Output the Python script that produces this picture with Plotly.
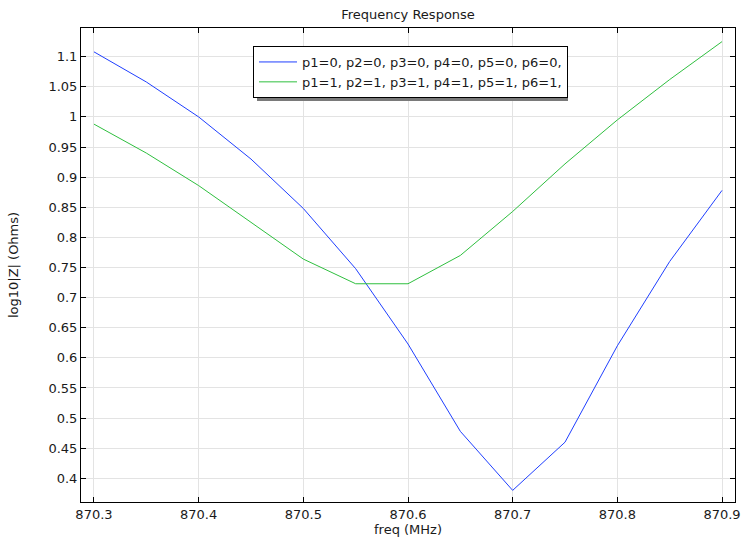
import plotly.graph_objects as go

freq = [870.3, 870.35, 870.4, 870.45, 870.5, 870.55, 870.6, 870.65, 870.7, 870.75, 870.8, 870.85, 870.9]
z_p0 = [1.108, 1.058, 1.0, 0.93, 0.848, 0.748, 0.623, 0.478, 0.38, 0.46, 0.62, 0.76, 0.878]
z_p1 = [0.988, 0.94, 0.886, 0.825, 0.764, 0.723, 0.723, 0.77, 0.843, 0.922, 0.995, 1.062, 1.125]
names = ["p1=0, p2=0, p3=0, p4=0, p5=0, p6=0,", "p1=1, p2=1, p3=1, p4=1, p5=1, p6=1,"]
colors = ["#1f3fff", "#2fbf3f"]

W, H = 741, 539
L, R, T, B = 81, 6, 28, 37
pw, ph = W - L - R, H - T - B

def px(x):
    return (x - L) / pw

def py(y):
    return 1 - (y - T) / ph

fig = go.Figure()
for ys, nm, c in zip([z_p0, z_p1], names, colors):
    fig.add_trace(go.Scatter(x=freq, y=ys, mode="lines", name=nm,
                             line=dict(color=c, width=1)))

fc = "#1a1a1a"
font = dict(family="DejaVu Sans", size=13, color=fc)
axis_common = dict(
    showline=True, linecolor="black", linewidth=1, mirror="ticks",
    ticks="inside", ticklen=5, tickcolor="black",
    showgrid=True, gridcolor="#e3e3e3", gridwidth=1, zeroline=False,
    tickfont=dict(family="DejaVu Sans", size=13, color=fc), automargin=False,
)
fig.update_xaxes(range=[870.2876, 870.9124], tickvals=[870.3, 870.4, 870.5, 870.6, 870.7, 870.8, 870.9],
                 ticktext=["870.3", "870.4", "870.5", "870.6", "870.7", "870.8", "870.9"],
                 title=dict(text="freq (MHz)", font=font, standoff=4), **axis_common)
fig.update_yaxes(range=[0.3607, 1.1476],
                 tickvals=[0.4, 0.45, 0.5, 0.55, 0.6, 0.65, 0.7, 0.75, 0.8, 0.85, 0.9, 0.95, 1.0, 1.05, 1.1],
                 ticktext=["0.4", "0.45", "0.5", "0.55", "0.6", "0.65", "0.7", "0.75", "0.8", "0.85", "0.9", "0.95", "1", "1.05", "1.1"],
                 title=dict(text="log10|Z| (Ohms)", font=font, standoff=26), **axis_common)

fig.add_shape(type="rect", xref="paper", yref="paper",
              x0=px(257), x1=px(568), y0=py(101), y1=py(50),
              fillcolor="#7a7a7a", line=dict(width=0), layer="above")

fig.update_layout(
    width=W, height=H,
    margin=dict(l=L, r=R, t=T, b=B),
    paper_bgcolor="white", plot_bgcolor="white",
    font=font,
    title=dict(text="Frequency Response", x=(L + pw / 2) / W, xanchor="center",
               y=1 - 14 / H, yanchor="middle", font=dict(family="DejaVu Sans", size=13, color=fc)),
    showlegend=True,
    legend=dict(x=px(253), y=py(46), xanchor="left", yanchor="top",
                bgcolor="white", bordercolor="black", borderwidth=1,
                font=dict(family="DejaVu Sans", size=13, color=fc),
                itemwidth=38),
)
fig.write_html("out.html", config={"displayModeBar": False},
               post_script="document.body.style.margin='0';document.body.style.overflow='hidden';")
